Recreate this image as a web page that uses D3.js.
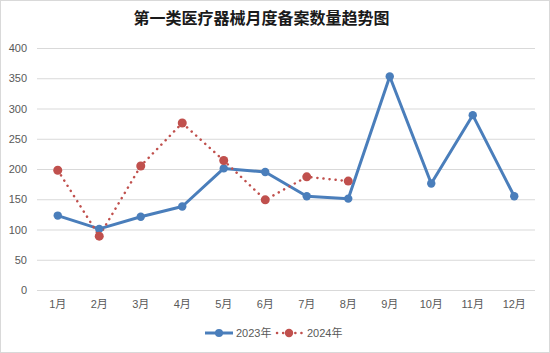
<!DOCTYPE html>
<html><head><meta charset="utf-8">
<script src="https://cdn.jsdelivr.net/npm/d3@7/dist/d3.min.js"></script>
<style>body{margin:0;background:#fff;}svg{display:block;}</style>
</head><body><div id="chart"></div>
<script>
const months = ["1月","2月","3月","4月","5月","6月","7月","8月","9月","10月","11月","12月"];
const values2023 = [123,101,121,138,201,195,155,151,353,176,289,155];
const values2024 = [198,89,205,276,214,149,187,180];
const yTicks = [0,50,100,150,200,250,300,350,400];
const seriesNames = ["2023年","2024年"];
const title = "第一类医疗器械月度备案数量趋势图";

const W = 550, H = 353;
const svg = d3.select("#chart").append("svg").attr("width", W).attr("height", H);
svg.append("rect").attr("x",0.5).attr("y",0.5).attr("width",W-1).attr("height",H-1)
  .attr("fill","#fff").attr("stroke","#d9d9d9");

const x = d3.scaleBand().domain(months).range([37,535]);
const y = d3.scaleLinear().domain([0,400]).range([290,48]);
const font = "'Liberation Sans', Arial, 'Noto Sans CJK SC', sans-serif";

svg.append("text").attr("x",261.5).attr("y",24).attr("text-anchor","middle")
  .attr("font-family","'Noto Sans CJK SC', sans-serif").attr("font-weight","bold")
  .attr("font-size",16).attr("fill","#1a1a1a").text(title);

const gy = svg.append("g").attr("transform","translate(37,0)")
  .call(d3.axisLeft(y).tickValues(yTicks).tickSize(-498).tickPadding(10));
gy.select(".domain").remove();
gy.selectAll(".tick line").attr("stroke","#d9d9d9");
gy.selectAll(".tick text").attr("fill","#595959").attr("font-size",11).attr("font-family",font);

const gx = svg.append("g").attr("transform","translate(0,290)")
  .call(d3.axisBottom(x).tickSize(0).tickPadding(10));
gx.select(".domain").remove();
gx.selectAll(".tick text").attr("fill","#595959").attr("font-size",11).attr("font-family",font);

const cx = (d,i) => x(months[i]) + x.bandwidth()/2;
const line = d3.line().x(cx).y(d => y(d));

const blue = "#4a7ebb", red = "#c0504d";
svg.append("path").datum(values2023).attr("d",line).attr("fill","none")
  .attr("stroke",blue).attr("stroke-width",3).attr("stroke-linejoin","round").attr("stroke-linecap","round");
svg.append("path").datum(values2024).attr("d",line).attr("fill","none")
  .attr("stroke",red).attr("stroke-width",2.5).attr("stroke-dasharray","0.1 6").attr("stroke-linecap","round");
svg.selectAll(".p23").data(values2023).enter().append("circle")
  .attr("cx",cx).attr("cy",d=>y(d)).attr("r",4.2).attr("fill",blue);
svg.selectAll(".p24").data(values2024).enter().append("circle")
  .attr("cx",cx).attr("cy",d=>y(d)).attr("r",4.5).attr("fill",red);

// legend
const lg = svg.append("g");
lg.append("line").attr("x1",205).attr("x2",233).attr("y1",333).attr("y2",333)
  .attr("stroke",blue).attr("stroke-width",3);
lg.append("circle").attr("cx",219).attr("cy",333).attr("r",4).attr("fill",blue);
lg.append("text").attr("x",236).attr("y",337).attr("font-size",11).attr("font-family",font)
  .attr("fill","#595959").text(seriesNames[0]);
lg.append("line").attr("x1",277).attr("x2",302).attr("y1",333).attr("y2",333)
  .attr("stroke",red).attr("stroke-width",2.5).attr("stroke-dasharray","0.1 6").attr("stroke-linecap","round");
lg.append("circle").attr("cx",289).attr("cy",333).attr("r",4.2).attr("fill",red);
lg.append("text").attr("x",307).attr("y",337).attr("font-size",11).attr("font-family",font)
  .attr("fill","#595959").text(seriesNames[1]);
</script></body></html>
